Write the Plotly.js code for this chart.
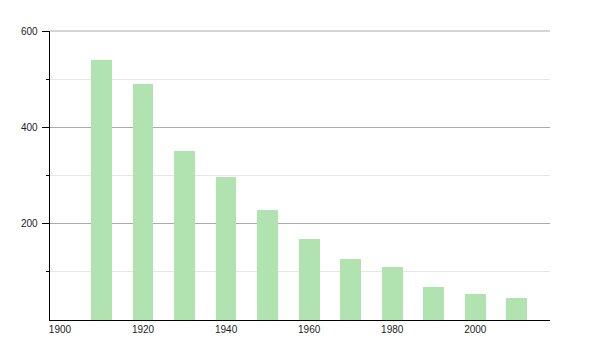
<!DOCTYPE html>
<html>
<head>
<meta charset="utf-8">
<script src="https://cdn.plot.ly/plotly-3.0.1.min.js"></script>
<style>html,body{margin:0;padding:0;background:#fff;}#chart{width:600px;height:350px;}</style>
</head>
<body>
<div id="chart"></div>
<script>
const years = [1910, 1920, 1930, 1940, 1950, 1960, 1970, 1980, 1990, 2000, 2010];
const population = [540, 490, 351, 297, 229, 169, 127, 111, 69, 53, 45];
const xTickVals = [1900, 1920, 1940, 1960, 1980, 2000];
const yTickVals = [200, 400, 600];

const trace = {
  type: 'bar',
  x: years,
  y: population,
  width: 5,
  marker: {color: 'rgb(176,227,176)', line: {width: 0}},
  hoverinfo: 'x+y'
};

const layout = {
  width: 600,
  height: 350,
  margin: {l: 50, r: 50, t: 31, b: 30, pad: 0},
  paper_bgcolor: '#fff',
  plot_bgcolor: '#fff',
  showlegend: false,
  font: {family: 'Liberation Sans, Arial, sans-serif', size: 10, color: '#222'},
  bargap: 0,
  xaxis: {
    range: [1897.6, 2018],
    tickvals: xTickVals,
    ticktext: xTickVals.map(String),
    showgrid: false,
    zeroline: false,
    showline: true,
    linecolor: '#000',
    linewidth: 1.3,
    ticks: '',
    ticklen: 0,
    fixedrange: true
  },
  yaxis: {
    range: [0, 600],
    tickvals: yTickVals,
    ticktext: yTickVals.map(String),
    showgrid: true,
    gridcolor: '#aaa',
    gridwidth: 1,
    zeroline: false,
    showline: true,
    linecolor: '#000',
    linewidth: 1.3,
    ticks: 'outside',
    ticklen: 7,
    tickcolor: '#000',
    tickwidth: 1,
    ticklabelstandoff: 2,
    minor: {
      tickvals: [100, 300, 500],
      showgrid: true,
      gridcolor: '#e6e6e6',
      gridwidth: 1,
      ticks: 'outside',
      ticklen: 3,
      tickcolor: '#000'
    },
    fixedrange: true
  },
  shapes: [{
    type: 'line', xref: 'paper', yref: 'paper', x0: 0, x1: 1, y0: 1, y1: 1,
    line: {color: '#aaa', width: 1}, layer: 'below'
  }]
};

Plotly.newPlot('chart', [trace], layout, {displayModeBar: false, staticPlot: true});
</script>
</body>
</html>
